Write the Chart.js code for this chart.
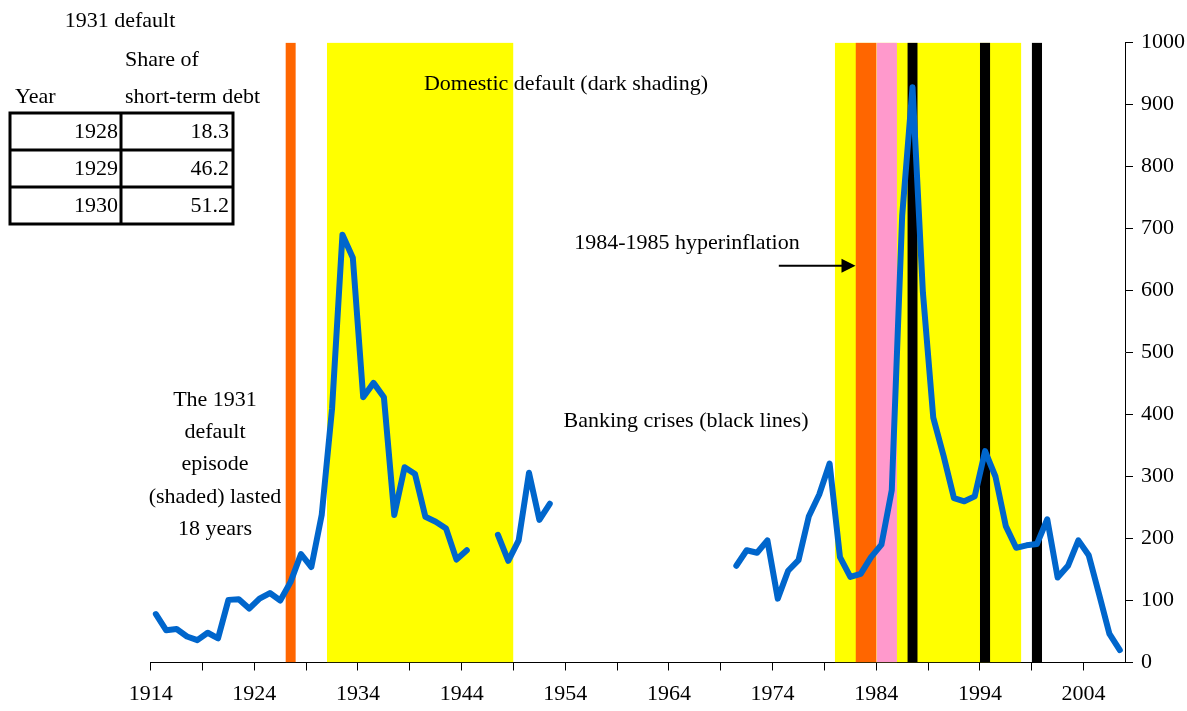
<!DOCTYPE html>
<html>
<head>
<meta charset="utf-8">
<script src="https://cdn.jsdelivr.net/npm/chart.js@4"></script>
<style>
html,body{margin:0;padding:0;background:#fff;}
canvas{display:block;}
</style>
</head>
<body>
<canvas id="c" width="1187" height="711"></canvas>
<script>
// ---------- DATA ----------
const years = [1914,1915,1916,1917,1918,1919,1920,1921,1922,1923,1924,1925,1926,1927,1928,1929,1930,
  1931,1932,1933,1934,1935,1936,1937,1938,1939,1940,1941,1942,1943,1944,1945,1946,1947,1948,1949,
  1950,1951,1952,1953,1954,1955,1956,1957,1958,1959,1960,1961,1962,1963,1964,1965,1966,1967,1968,
  1969,1970,1971,1972,1973,1974,1975,1976,1977,1978,1979,1980,1981,1982,1983,1984,1985,1986,1987,
  1988,1989,1990,1991,1992,1993,1994,1995,1996,1997,1998,1999,2000,2001,2002,2003,2004,2005,2006,2007];
const debtValues = [78,52,54,42,36,48,39,101,102,87,103,112,100,130,175,154,238,
  410,690,653,428,451,428,238,315,304,235,227,216,166,181,null,null,206,164,197,
  306,230,256,null,null,null,null,null,null,null,null,null,null,null,null,null,null,null,null,
  null,156,181,177,197,103,148,165,236,271,321,170,138,143,170,190,278,720,928,
  597,395,333,265,260,268,341,300,220,185,189,191,231,137,156,197,173,110,46,20];

// shaded episodes [start year, end year]
const externalDefault = [[1931,1949],[1980,1998]];   // yellow
const domesticDefault = [[1927,1928],[1982,1984]];   // orange (dark shading)
const hyperinflation = [[1984,1986]];                // pink
const bankingCrises = [[1987,1988],[1994,1995],[1999,2000]]; // black

const xTickYears = [1914,1919,1924,1929,1934,1939,1944,1949,1954,1959,1964,1969,1974,1979,1984,1989,1994,1999,2004];
const xLabelYears = [1914,1924,1934,1944,1954,1964,1974,1984,1994,2004];
const yTicks = [0,100,200,300,400,500,600,700,800,900,1000];

const tableYears = [1928,1929,1930];
const tableShares = ['18.3','46.2','51.2'];

// ---------- CHART ----------
const FONT = '"Liberation Serif", "Times New Roman", serif';
Chart.defaults.font.family = FONT;
Chart.defaults.color = '#000';

function shadeSets(list, color, order, label) {
  return list.map((r, i) => ({
    label: label + i,
    data: [{x: r[0], y: 1000}, {x: r[1], y: 1000}],
    fill: 'origin',
    backgroundColor: color,
    borderWidth: 0,
    pointRadius: 0,
    order: order
  }));
}

const lineData = years.map((yr, i) => ({x: yr + 0.5, y: debtValues[i]}));

const datasets = [
  {
    label: 'Debt',
    data: lineData,
    borderColor: '#0066CC',
    borderWidth: 6,
    borderCapStyle: 'round',
    borderJoinStyle: 'round',
    pointRadius: 0,
    fill: false,
    spanGaps: false,
    tension: 0,
    order: 0
  },
  ...shadeSets(bankingCrises, '#000000', 1, 'bank'),
  ...shadeSets(hyperinflation, '#FF99CC', 2, 'hyper'),
  ...shadeSets(domesticDefault, '#FF6600', 3, 'dom'),
  ...shadeSets(externalDefault, '#FFFF00', 4, 'ext')
];

const annotations = {
  id: 'annotations',
  afterDraw(chart) {
    const ctx = chart.ctx;
    const xs = chart.scales.x, ys = chart.scales.y;
    ctx.save();
    ctx.fillStyle = '#000';
    ctx.font = '22px ' + FONT;
    ctx.textBaseline = 'middle';

    // table header texts
    ctx.textAlign = 'center';
    ctx.fillText('1931 default', 120, 21);
    ctx.textAlign = 'left';
    ctx.fillText('Share of', 125, 60);
    ctx.fillText('Year', 15, 97);
    ctx.fillText('short-term debt', 125, 97);

    // table grid
    const tl = 10, tr = 233, tt = 113, rowH = 37, colX = 121;
    ctx.lineWidth = 3;
    ctx.strokeStyle = '#000';
    ctx.strokeRect(tl, tt, tr - tl, rowH * tableYears.length);
    ctx.beginPath();
    for (let i = 1; i < tableYears.length; i++) {
      ctx.moveTo(tl, tt + rowH * i); ctx.lineTo(tr, tt + rowH * i);
    }
    ctx.moveTo(colX, tt); ctx.lineTo(colX, tt + rowH * tableYears.length);
    ctx.stroke();
    ctx.textAlign = 'right';
    tableYears.forEach((yr, i) => {
      const cy = tt + rowH * i + rowH / 2 + 1;
      ctx.fillText(String(yr), colX - 3, cy);
      ctx.fillText(tableShares[i], tr - 4, cy);
    });

    // notes
    ctx.textAlign = 'center';
    ctx.fillText('Domestic default (dark shading)', 566, 84);
    ctx.fillText('1984-1985 hyperinflation', 687, 243);
    ctx.fillText('Banking crises (black lines)', 686, 421);
    const epi = ['The 1931', 'default', 'episode', '(shaded) lasted', '18 years'];
    epi.forEach((t, i) => ctx.fillText(t, 215, 400 + i * 32.3));

    // arrow to the hyperinflation shading
    const ax0 = xs.getPixelForValue(1974.6), ax1 = xs.getPixelForValue(1982);
    const ay = ys.getPixelForValue(640);
    ctx.lineWidth = 2;
    ctx.beginPath();
    ctx.moveTo(ax0, ay); ctx.lineTo(ax1 - 10, ay);
    ctx.stroke();
    ctx.beginPath();
    ctx.moveTo(ax1, ay);
    ctx.lineTo(ax1 - 14, ay - 7);
    ctx.lineTo(ax1 - 14, ay + 7);
    ctx.closePath();
    ctx.fill();
    ctx.restore();
  }
};

new Chart(document.getElementById('c'), {
  type: 'line',
  data: { datasets },
  options: {
    responsive: false,
    animation: false,
    devicePixelRatio: 1,
    layout: { padding: { left: 150.7, top: 42.5, right: 0, bottom: 0 } },
    plugins: { legend: { display: false }, tooltip: { enabled: false } },
    scales: {
      x: {
        type: 'linear',
        min: 1914,
        max: 2008,
        afterBuildTicks(scale) { scale.ticks = xTickYears.map(v => ({value: v})); },
        afterFit(scale) { scale.height = 48.5; },
        ticks: {
          autoSkip: false,
          maxRotation: 0,
          font: { size: 22, family: FONT },
          color: '#000',
          padding: 11,
          callback: (v) => xLabelYears.includes(v) ? String(v) : ''
        },
        grid: { drawOnChartArea: false, drawTicks: true, tickLength: 8, color: '#000', lineWidth: 1 },
        border: { display: true, color: '#000', width: 1 }
      },
      y: {
        type: 'linear',
        position: 'right',
        min: 0,
        max: 1000,
        afterBuildTicks(scale) { scale.ticks = yTicks.map(v => ({value: v})); },
        afterFit(scale) { scale.width = 62; },
        ticks: { font: { size: 22, family: FONT }, color: '#000', padding: 8, callback: (v) => String(v) },
        grid: { drawOnChartArea: false, drawTicks: true, tickLength: 8, color: '#000', lineWidth: 1 },
        border: { display: true, color: '#000', width: 1 }
      }
    }
  },
  plugins: [annotations]
});
</script>
</body>
</html>
